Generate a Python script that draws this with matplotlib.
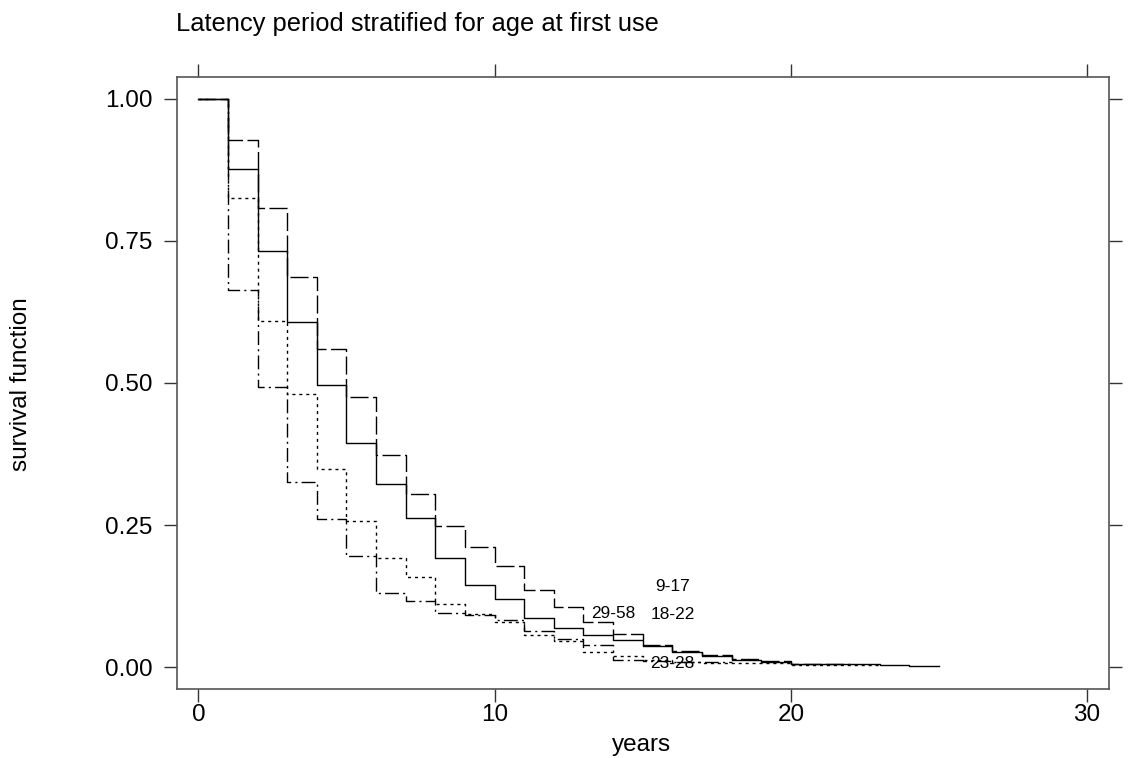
import matplotlib
matplotlib.use("Agg")
import matplotlib.pyplot as plt
import numpy as np

plt.rcParams['font.family'] = ['Liberation Sans', 'DejaVu Sans']

# Kaplan-Meier step values per yearly interval [t, t+1)
surv_9_17 = [1.0, 0.928, 0.808, 0.687, 0.559, 0.475, 0.373, 0.304, 0.248, 0.212,
             0.177, 0.135, 0.105, 0.079, 0.059, 0.039, 0.029, 0.021, 0.014, 0.011,
             0.006, 0.005]
surv_18_22 = [1.0, 0.877, 0.732, 0.608, 0.496, 0.395, 0.323, 0.263, 0.192, 0.144,
              0.120, 0.087, 0.068, 0.056, 0.047, 0.037, 0.027, 0.019, 0.0125, 0.0095,
              0.005, 0.005, 0.005, 0.0035, 0.001]
surv_23_28 = [1.0, 0.825, 0.609, 0.481, 0.348, 0.257, 0.192, 0.158, 0.111, 0.093,
              0.079, 0.056, 0.045, 0.027, 0.019, 0.012, 0.0095, 0.0065, 0.0065, 0.0065,
              0.004, 0.004, 0.004]
surv_29_58 = [1.0, 0.663, 0.493, 0.325, 0.260, 0.195, 0.130, 0.117, 0.0945, 0.092,
              0.082, 0.064, 0.050, 0.039, 0.012, 0.010, 0.008, 0.008]

labels = ['9-17', '18-22', '23-28', '29-58']
label_x = [16.0, 16.0, 16.0, 14.0]
label_y = [0.141, 0.093, 0.007, 0.095]

xticks = [0, 10, 20, 30]
yticks = [0.0, 0.25, 0.50, 0.75, 1.00]
ytick_labels = ['0.00', '0.25', '0.50', '0.75', '1.00']

W, H = 1145, 758
fig = plt.figure(figsize=(W / 100, H / 100), dpi=100)
ax = fig.add_axes([177 / W, 1 - 689 / H, (1109.3 - 177) / W, (689 - 77) / H])

styles = {
    '9-17': dict(linestyle=(0, (13, 3.2))),
    '18-22': dict(linestyle='-'),
    '23-28': dict(linestyle=(0, (2.2, 2.8))),
    '29-58': dict(linestyle=(0, (10, 3, 1.5, 3))),
}
series = {'9-17': surv_9_17, '18-22': surv_18_22, '23-28': surv_23_28, '29-58': surv_29_58}

for name, vals in series.items():
    t = np.arange(len(vals) + 1)
    y = list(vals) + [vals[-1]]
    ax.plot(t, y, drawstyle='steps-post', color='black', lw=1.0, **styles[name])

for lab, lx, ly in zip(labels, label_x, label_y):
    ax.text(lx, ly, lab, ha='center', va='center', fontsize=12.4)

ax.set_xlim(-0.72, 30.75)
ax.set_ylim(-0.0387, 1.0387)
ax.set_xticks(xticks)
ax.set_xticklabels([str(v) for v in xticks])
ax.set_yticks(yticks)
ax.set_yticklabels(ytick_labels)

for s in ax.spines.values():
    s.set_color('#555555')
    s.set_linewidth(1.2)

ax.tick_params(axis='both', direction='out', length=9.5, width=1.0, color='#333333',
               top=True, right=True, labeltop=False, labelright=False, labelsize=17.5)
ax.tick_params(axis='x', pad=1.5)
ax.tick_params(axis='y', pad=8)

fig.text(176 / W, 1 - 31 / H, 'Latency period stratified for age at first use',
         ha='left', va='baseline', fontsize=18.4)
fig.text(642 / W, 1 - 750.5 / H, 'years', ha='center', va='baseline', fontsize=17.5)
fig.text(21 / W, 1 - 384 / H, 'survival function', rotation=90, ha='center',
         va='center', fontsize=17.5)

fig.savefig('out.png', dpi=100)
